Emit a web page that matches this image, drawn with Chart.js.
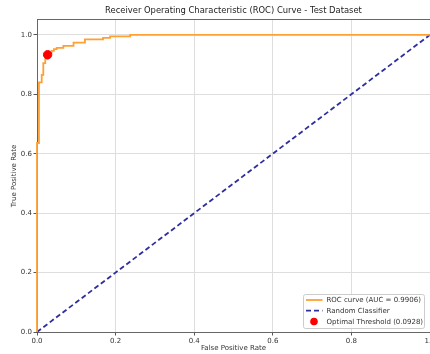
<!DOCTYPE html>
<html>
<head>
<meta charset="utf-8">
<script src="https://cdn.jsdelivr.net/npm/chart.js@4.4.0/dist/chart.umd.min.js"></script>
<style>
  html, body { margin: 0; padding: 0; background: #fff; }
  #clip { width: 430px; height: 354px; overflow: hidden; position: relative; }
  #wrap { width: 450px; height: 354px; position: absolute; left: 0; top: 0; }
</style>
</head>
<body>
<div id="clip"><div id="wrap"><canvas id="c"></canvas></div></div>
<script>
// ROC curve vertices (false positive rate, true positive rate)
const rocFpr = [0, 0, 0.005, 0.005, 0.012, 0.012, 0.016, 0.016, 0.021, 0.021, 0.027, 0.027, 0.032, 0.032, 0.037, 0.037, 0.043, 0.043, 0.050, 0.050, 0.067, 0.067, 0.093, 0.093, 0.122, 0.122, 0.168, 0.168, 0.186, 0.186, 0.237, 0.237, 1.0];
const rocTpr = [0, 0.636, 0.636, 0.84, 0.84, 0.865, 0.865, 0.905, 0.905, 0.92, 0.92, 0.933, 0.933, 0.94, 0.94, 0.946, 0.946, 0.952, 0.952, 0.956, 0.956, 0.963, 0.963, 0.974, 0.974, 0.985, 0.985, 0.99, 0.99, 0.995, 0.995, 1.0, 1.0];
// Random classifier diagonal
const randFpr = [0, 1];
const randTpr = [0, 1];
// Optimal threshold point
const optFpr = [0.027];
const optTpr = [0.933];
// Axis ticks
const xTicks = [0, 0.2, 0.4, 0.6, 0.8, 1.0];
const yTicks = [0, 0.2, 0.4, 0.6, 0.8, 1.0];
const labels = ['ROC curve (AUC = 0.9906)', 'Random Classifier', 'Optimal Threshold (0.0928)'];
const titleText = 'Receiver Operating Characteristic (ROC) Curve - Test Dataset';

const FONT = "'DejaVu Sans', sans-serif";
const pts = (xs, ys) => xs.map((x, i) => ({ x: x, y: ys[i] }));

const framePlugin = {
  id: 'frame',
  beforeDatasetsDraw(chart) {
    const { ctx, chartArea: a } = chart;
    ctx.save();
    ctx.strokeStyle = '#666';
    ctx.lineWidth = 1;
    const t = Math.round(a.top) - 0.5;
    ctx.beginPath();
    ctx.moveTo(a.left, t); ctx.lineTo(a.right, t);
    ctx.moveTo(Math.round(a.right) + 0.5, t); ctx.lineTo(Math.round(a.right) + 0.5, a.bottom);
    ctx.stroke();
    ctx.restore();
  },
  afterDatasetsDraw(chart) {
    const { ctx } = chart;
    ctx.save();
    const bx = 303.5, by = 294.5, bw = 121, bh = 34;
    ctx.fillStyle = 'rgba(255,255,255,0.85)';
    ctx.strokeStyle = '#cccccc';
    ctx.lineWidth = 1;
    ctx.beginPath();
    if (ctx.roundRect) ctx.roundRect(bx, by, bw, bh, 2); else ctx.rect(bx, by, bw, bh);
    ctx.fill();
    ctx.stroke();
    ctx.font = '7px ' + FONT;
    ctx.textBaseline = 'middle';
    const rows = [by + 5.5, by + 16.2, by + 27];
    ctx.strokeStyle = '#ffa033';
    ctx.lineWidth = 1.8;
    ctx.setLineDash([]);
    ctx.beginPath(); ctx.moveTo(bx + 2.5, rows[0]); ctx.lineTo(bx + 19, rows[0]); ctx.stroke();
    ctx.strokeStyle = '#2e2e9e';
    ctx.setLineDash([5, 3]);
    ctx.beginPath(); ctx.moveTo(bx + 2.5, rows[1]); ctx.lineTo(bx + 19, rows[1]); ctx.stroke();
    ctx.setLineDash([]);
    ctx.fillStyle = '#ff0000';
    ctx.beginPath(); ctx.arc(bx + 10.5, rows[2], 3.8, 0, Math.PI * 2); ctx.fill();
    ctx.fillStyle = '#333';
    labels.forEach((t, i) => ctx.fillText(t, bx + 23, rows[i] + 0.5));
    ctx.restore();
  }
};

new Chart(document.getElementById('c'), {
  type: 'scatter',
  data: {
    datasets: [
      { label: labels[2], data: pts(optFpr, optTpr), backgroundColor: '#ff0000', borderColor: '#ff0000', pointRadius: 4.2, pointHoverRadius: 4.2, order: 0 },
      { label: labels[0], data: pts(rocFpr, rocTpr), showLine: true, borderColor: '#ffa033', borderWidth: 1.8, pointRadius: 0, fill: false, tension: 0, clip: 4, order: 1 },
      { label: labels[1], data: pts(randFpr, randTpr), showLine: true, borderColor: '#2e2e9e', borderWidth: 1.8, borderDash: [5, 3], pointRadius: 0, fill: false, clip: 4, order: 2 }
    ]
  },
  options: {
    responsive: true,
    maintainAspectRatio: false,
    animation: false,
    layout: { padding: { left: 0, right: 20, top: 0, bottom: 0 } },
    plugins: {
      legend: { display: false },
      tooltip: { enabled: false },
      title: {
        display: true,
        text: titleText,
        fullSize: false,
        color: '#222',
        font: { family: FONT, size: 8.4, weight: 'normal' },
        padding: { top: 6, bottom: 3.9 }
      }
    },
    scales: {
      x: {
        type: 'linear', min: 0, max: 1,
        afterFit(s) { s.height = 22; },
        afterBuildTicks(s) { s.ticks = xTicks.map(v => ({ value: v })); },
        ticks: { font: { family: FONT, size: 7 }, color: '#333', padding: 1, maxRotation: 0, callback: v => v.toFixed(1) },
        grid: { color: '#dedede', lineWidth: 1, tickColor: '#555', tickLength: 3.5 },
        border: { color: '#666', width: 1 },
        title: { display: true, text: 'False Positive Rate', color: '#333', font: { family: FONT, size: 7 }, padding: { top: 0, bottom: 1.5 } }
      },
      y: {
        type: 'linear', min: 0, max: 1.05,
        afterFit(s) { s.width = 37; },
        afterBuildTicks(s) { s.ticks = yTicks.map(v => ({ value: v })); },
        ticks: { font: { family: FONT, size: 7 }, color: '#333', padding: 1.5, callback: v => v.toFixed(1) },
        grid: { color: '#dedede', lineWidth: 1, tickColor: '#555', tickLength: 3.5 },
        border: { color: '#666', width: 1 },
        title: { display: true, text: 'True Positive Rate', color: '#333', font: { family: FONT, size: 7 }, padding: { top: 10, bottom: 0 } }
      }
    }
  },
  plugins: [framePlugin]
});
</script>
</body>
</html>
